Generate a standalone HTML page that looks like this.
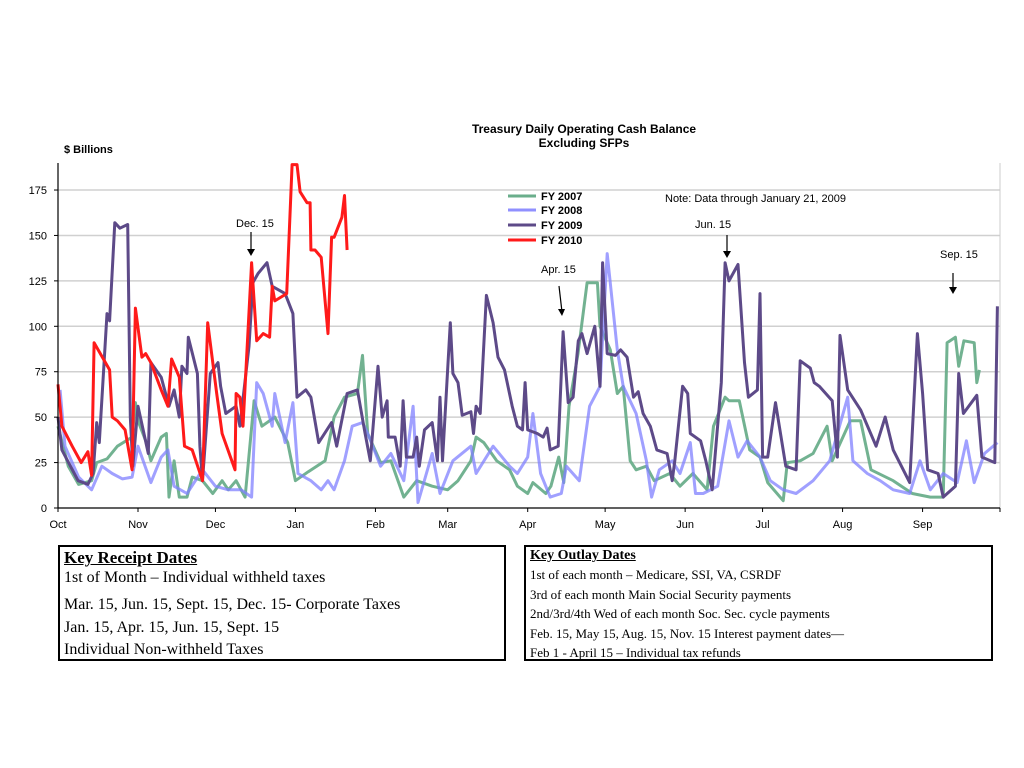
<!DOCTYPE html>
<html><head><meta charset="utf-8">
<style>
body{margin:0;background:#fff;width:1024px;height:768px;overflow:hidden;position:relative;font-family:"Liberation Sans",sans-serif}
.box{position:absolute;border:2px solid #000;font-family:"Liberation Serif",serif;color:#000;box-sizing:border-box}
.box div{position:absolute;left:4px;white-space:nowrap}
</style></head><body>
<svg id="chart" width="1024" height="540" style="position:absolute;left:0;top:0" xmlns="http://www.w3.org/2000/svg">
<text x="584" y="133" text-anchor="middle" font-size="12" font-weight="bold" font-family="Liberation Sans, sans-serif">Treasury Daily Operating Cash Balance</text>
<text x="584" y="147" text-anchor="middle" font-size="12" font-weight="bold" font-family="Liberation Sans, sans-serif">Excluding SFPs</text>
<text x="64" y="153" font-size="11" font-weight="bold" font-family="Liberation Sans, sans-serif">$ Billions</text>
<g id="grid"></g><g id="series"></g><g id="axes"></g>
<g font-size="11" font-weight="bold" font-family="Liberation Sans, sans-serif">
<line x1="508" y1="196" x2="536" y2="196" stroke="#6aae8b" stroke-width="3"/><text x="541" y="200">FY 2007</text>
<line x1="508" y1="210" x2="536" y2="210" stroke="#9090ff" stroke-width="3"/><text x="541" y="214">FY 2008</text>
<line x1="508" y1="225" x2="536" y2="225" stroke="#5d4a88" stroke-width="3"/><text x="541" y="229">FY 2009</text>
<line x1="508" y1="240" x2="536" y2="240" stroke="#ff1a1a" stroke-width="3"/><text x="541" y="244">FY 2010</text>
</g>
<text x="665" y="202" font-size="11" font-family="Liberation Sans, sans-serif">Note: Data through January  21,  2009</text>
<g font-size="11" font-family="Liberation Sans, sans-serif" stroke-width="1.2">
<text x="236" y="227">Dec. 15</text><line x1="251" y1="232" x2="251" y2="252" stroke="#000"/><path d="M247,249 L251,256 L255,249Z"/>
<text x="541" y="273">Apr. 15</text><line x1="559" y1="286" x2="562" y2="312" stroke="#000"/><path d="M558,309 L562,316 L565,309Z"/>
<text x="695" y="228">Jun. 15</text><line x1="727" y1="235" x2="727" y2="254" stroke="#000"/><path d="M723,251 L727,258 L731,251Z"/>
<text x="940" y="258">Sep. 15</text><line x1="953" y1="273" x2="953" y2="290" stroke="#000"/><path d="M949,287 L953,294 L957,287Z"/>
</g>
</svg>
<div class="box" style="left:58px;top:545px;width:448px;height:116px">
<div style="top:1px;font-size:17px;font-weight:bold;text-decoration:underline">Key Receipt Dates</div>
<div style="top:22px;font-size:16px">1st of Month – Individual withheld taxes</div>
<div style="top:49px;font-size:16px">Mar. 15, Jun. 15, Sept. 15, Dec. 15- Corporate Taxes</div>
<div style="top:72px;font-size:16px">Jan. 15, Apr. 15, Jun. 15, Sept. 15</div>
<div style="top:94px;font-size:16px">Individual Non-withheld Taxes</div>
</div>
<div class="box" style="left:524px;top:545px;width:469px;height:116px">
<div style="top:1px;font-size:14px;font-weight:bold;text-decoration:underline">Key Outlay Dates</div>
<div style="top:20px;font-size:13px">1st of each month – Medicare, SSI, VA, CSRDF</div>
<div style="top:40px;font-size:13px">3rd of each month Main Social Security payments</div>
<div style="top:59px;font-size:13px">2nd/3rd/4th Wed of each month Soc. Sec. cycle payments</div>
<div style="top:79px;font-size:13px">Feb. 15, May 15, Aug. 15, Nov. 15 Interest payment dates—</div>
<div style="top:98px;font-size:13px">Feb 1 - April 15 – Individual tax refunds</div>
</div>
<script>
const months=["Oct","Nov","Dec","Jan","Feb","Mar","Apr","May","Jun","Jul","Aug","Sep"];
const monthStartDays=[0,31,61,92,123,151,182,212,243,273,304,335];
const yTicks=[0,25,50,75,100,125,150,175];
const fy2007Days=[0,4,8,13,15,19,23,28.7,30,31,34,36,40,42,43,45,47,50,52,56,60,63.6,66,69,72.5,76,79,84,89,92,97,103.5,107,111,116,118,120,125,129,134,139,145,151,155,160,162,165,170,175,178,182,184,189,191,194,196,198,201.5,205,209,210,214,216.7,219,221.7,224,228,231,237,241,246,251.5,254,258.5,260,264,268,272,275,281,282.6,287.6,292.6,298,300,307,311,315,323.6,331,338,343,344.5,347.7,349,351,355,356,357];
const fy2007Vals=[45,23,13,15,25,27,34,39,58,48,37,26,39,41,6,26,6,6,17,15,8,15,10,15,6,59,45,50,36,15,20,26,50,61,63,84,41,25,26,6,15,12,10,15,26,39,36,26,21,12,8,14,8,12,28,14,56,85,124,124,100,87,63,67,26,21,23,15,19,12,19,10,45,61,59,59,32,28,14,4,25,26,30,45,26,48,48,21,15,8,6,6,91,94,78,92,91,69,76];
const fy2008Days=[0.8,2.7,8,13,17,21,25,28.7,31,36,40,42.6,45,50,56,61,66,71,75,77,79.5,83,84,88,91,93,98,102,104.6,107,111,114,118,120,125,129,134,137.6,139.5,145,148,153,160,162,168.6,175,178,182,184,187,190.7,195,197,202,206,210,212.8,216.7,219,224,228,230,233,238,241,245,247,250,255.6,260,263.5,267,272,276,281,286,292.6,299,306,308,313.6,318.6,323.6,330,334,338,343,348.4,352,355,359,364];
const fy2008Vals=[65,34,17,10,23,19,16,17,34,14,28,32,12,8,21,12,10,10,6,69,63,45,63,36,58,19,15,10,15,10,26,45,47,41,23,30,15,56,3,30,8,26,34,19,34,23,19,28,52,19,6,8,23,15,56,67,140,87,67,52,26,6,21,26,19,36,8,8,12,48,28,37,28,15,10,8,15,26,61,26,19,15,10,8,26,10,19,14,37,14,30,36];
const fy2009Days=[0,1.5,7.8,11.6,13.6,15,16,19,20,22,24,27,28,29,31,35,36,40,43,45,47,48,50,50.5,54,55,56,59,62,63,65,69,70.5,74,75.5,77.5,81,83,88,91,92.6,96,98,101,106,108,112,116,119,121,124,125.6,127.5,128,130.6,132.6,133.7,135,137.6,139,140,142,145,147,148,149,152,153,155,156.6,160,161,162,163.6,166,168.6,170.5,173,176,178,180,181,182,185.7,188,189.5,190.7,193.8,195.7,197.7,199.6,201.6,203,205,208,210,211,212.8,216,218,220.5,223,224.8,226.7,229.5,232,236,238,239,242,244,245,249,251,253.5,257,258.5,260,263.5,266,267.5,271,272,273,275,278,282,286,287.6,291.5,293,295,300,302,303,306,311,317,320.5,323.6,330,333,335,337,341,343,347.7,349,350.8,356,358,363,364];
const fy2009Vals=[50,32,15,13,19,47,36,107,103,157,154,156,50,23,56,30,80,72,56,65,50,78,74,94,74,34,15,74,80,67,52,56,45,89,124,129,135,122,118,107,61,65,61,36,47,34,63,65,41,26,78,50,59,39,39,23,59,28,28,39,23,43,47,26,61,26,102,74,69,51,53,41,56,52,117,102,83,76,56,45,43,69,43,41,39,44,32,34,97,58,61,92,96,85,100,67,135,85,84,87,83,61,64,52,45,32,30,15,26,67,63,41,37,26,10,69,135,125,134,80,61,65,118,28,28,58,23,21,81,77,69,67,59,28,95,65,54,34,50,32,14,96,63,21,19,6,12,74,52,62,28,25,111];
const fy2010Days=[0,1.5,5.5,9,11.6,13,14,20,21,23,26,28.7,30,32.5,34,36,40,42.6,44,47,49,52,56,58,61.5,63.6,68.6,69,70.5,71.7,75,77,79.5,82,83,84,88.6,90.7,92.6,93.8,96.5,97.7,98,99.6,102,104.6,106,107,110,111,112];
const fy2010Vals=[68,45,34,25,31,18,91,76,50,48,43,21,110,83,85,80,65,56,82,72,34,32,15,102,63,41,21,63,61,45,135,92,96,94,122,114,118,189,189,174,168,168,142,142,138,96,149,149,160,172,142];

const NS="http://www.w3.org/2000/svg";
const X0=58,X1=1000,Y0=508,PX=1.817;
function xScale(d){return X0+d*(X1-X0)/365;}
function yScale(v){return Y0-v*PX;}
function mk(tag,attrs,parent){const e=document.createElementNS(NS,tag);for(const k in attrs)e.setAttribute(k,attrs[k]);parent.appendChild(e);return e;}
const grid=document.getElementById('grid'),axes=document.getElementById('axes'),ser=document.getElementById('series');
yTicks.forEach(t=>{
  if(t>0){const g=mk('line',{x1:X0,x2:X1,y1:yScale(t),y2:yScale(t),stroke:'#d0d0d0','stroke-width':1.5},grid);
  
  }
  const tx=mk('text',{x:47,y:yScale(t)+4,'text-anchor':'end','font-size':11,'font-family':'Liberation Sans, sans-serif'},axes);
  tx.textContent=t;
  
  
  mk('line',{x1:X0-4,x2:X0,y1:yScale(t),y2:yScale(t),stroke:'#000'},axes);
});
mk('line',{x1:X1,x2:X1,y1:163,y2:Y0,stroke:'#ccc','stroke-width':1},grid);
const ya=mk('line',{x1:X0,x2:X0,y1:163,y2:Y0,stroke:'#000','stroke-width':1.2},axes);


const xa=mk('line',{x1:X0,x2:X1,y1:Y0,y2:Y0,stroke:'#000','stroke-width':1.2},axes);


months.forEach((m,i)=>{
  const x=xScale(monthStartDays[i]);
  mk('line',{x1:x,x2:x,y1:Y0,y2:Y0+4,stroke:'#000'},axes);
  const tx=mk('text',{x:x,y:Y0+20,'text-anchor':'middle','font-size':11,'font-family':'Liberation Sans, sans-serif'},axes);
  tx.textContent=m;
  
  
});
mk('line',{x1:X1,x2:X1,y1:Y0,y2:Y0+4,stroke:'#000'},axes);
function line(days,vals,color,name,op){
  const d=days.map((t,i)=>(i?'L':'M')+xScale(t).toFixed(1)+','+yScale(vals[i]).toFixed(1)).join(' ');
  const p=mk('path',{d:d,fill:'none',stroke:color,'stroke-width':3,'stroke-linejoin':'round',opacity:op},ser);
  
  
}
mk('clipPath',{id:'clip'},ser).appendChild(document.createElementNS(NS,'rect'));
line(fy2007Days,fy2007Vals,'#6aae8b','series-fy2007',0.95);
line(fy2008Days,fy2008Vals,'#8080ff',' series-fy2008'.trim(),0.75);
line(fy2009Days,fy2009Vals,'#5d4a88','series-fy2009',1);
line(fy2010Days,fy2010Vals,'#ff1a1a','series-fy2010',1);
</script>
</body></html>
